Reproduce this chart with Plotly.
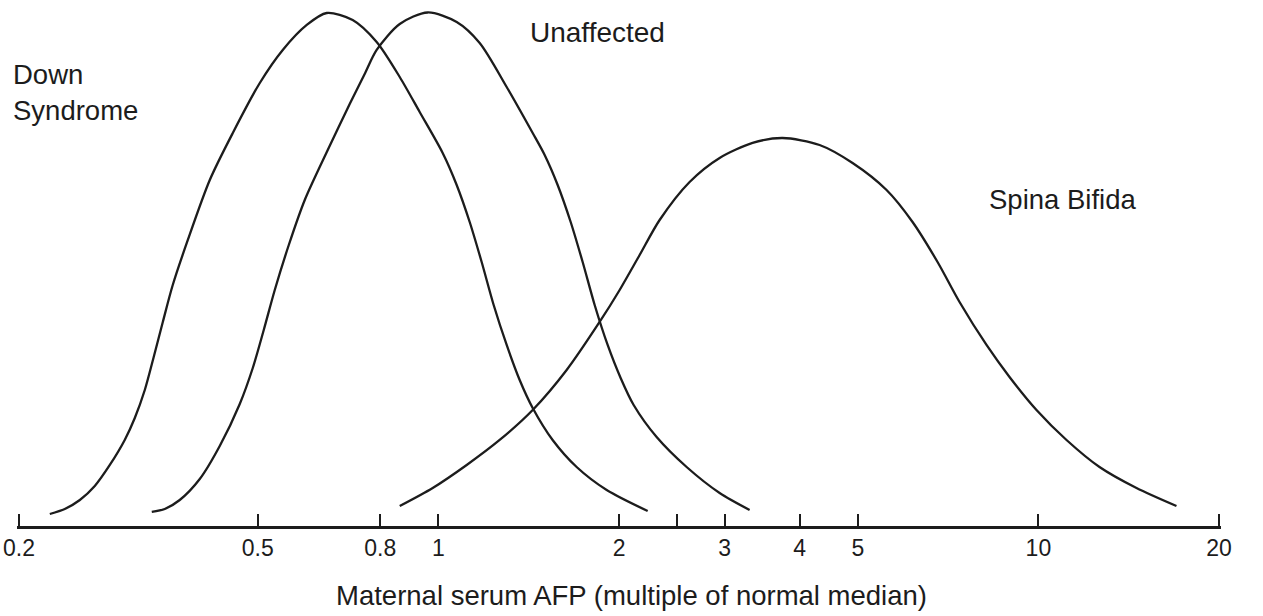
import plotly.graph_objects as go

# Maternal serum AFP (multiple of normal median) and relative frequency (Unaffected peak = 1)
down_afp = [0.2251, 0.2384, 0.2526, 0.2675, 0.2834, 0.3001, 0.3119, 0.3241, 0.3354, 0.3473,
            0.3608, 0.3823, 0.4159, 0.4543, 0.5039, 0.5503, 0.6034, 0.6514, 0.7197, 0.7891,
            0.8621, 0.9307, 1.0166, 1.0727, 1.1276, 1.1806, 1.2363, 1.2996, 1.3660, 1.4360,
            1.5502, 1.6999, 1.9075, 2.2325]
down_freq = [0.0234, 0.0331, 0.0506, 0.0779, 0.1188, 0.1675, 0.2103, 0.2648, 0.3291, 0.3973,
             0.4693, 0.5570, 0.6738, 0.7653, 0.8627, 0.9270, 0.9757, 0.9990, 0.9854, 0.9426,
             0.8744, 0.8062, 0.7264, 0.6641, 0.5920, 0.5141, 0.4304, 0.3525, 0.2843, 0.2298,
             0.1675, 0.1149, 0.0701, 0.0292]

unaff_afp = [0.3329, 0.3499, 0.3706, 0.4002, 0.4321, 0.4666, 0.4905, 0.5116, 0.5337, 0.5632,
             0.5988, 0.6540, 0.7115, 0.7536, 0.7891, 0.8621, 0.9598, 1.0727, 1.1717, 1.2996,
             1.4360, 1.5035, 1.5804, 1.6613, 1.7395, 1.8216, 1.9146, 2.0125, 2.1155, 2.3106,
             2.5925, 2.9425, 3.3013]
unaff_freq = [0.0273, 0.0331, 0.0506, 0.0915, 0.1558, 0.2376, 0.3077, 0.3817, 0.4596, 0.5472,
              0.6349, 0.7322, 0.8218, 0.8802, 0.9270, 0.9776, 1.0000, 0.9815, 0.9406, 0.8549,
              0.7653, 0.7225, 0.6641, 0.5920, 0.5141, 0.4304, 0.3525, 0.2882, 0.2356, 0.1733,
              0.1149, 0.0643, 0.0312]

spina_afp = [0.8621, 0.9784, 1.1147, 1.2651, 1.4360, 1.6359, 1.8564, 2.0048, 2.1647, 2.3373,
             2.6223, 2.9425, 3.3393, 3.7464, 4.3180, 4.9010, 5.5837, 6.1696, 6.7904, 7.3883,
             8.1940, 8.9500, 9.9270, 11.139, 12.642, 14.571, 16.986]
spina_freq = [0.0389, 0.0740, 0.1188, 0.1675, 0.2259, 0.3038, 0.3973, 0.4596, 0.5277, 0.5959,
              0.6699, 0.7167, 0.7459, 0.7556, 0.7420, 0.7069, 0.6543, 0.5920, 0.5141, 0.4362,
              0.3525, 0.2902, 0.2259, 0.1675, 0.1149, 0.0740, 0.0389]

tick_vals = [0.2, 0.5, 0.8, 1, 2, 2.5, 3, 4, 5, 10, 20]
tick_text = ["0.2", "0.5", "0.8", "1", "2", "", "3", "4", "5", "10", "20"]

series_labels = ["Down<br>Syndrome", "Unaffected", "Spina Bifida"]
x_title = "Maternal serum AFP (multiple of normal median)"

INK = "#1c1c1c"
FONT = "Liberation Sans, Arial, Helvetica, sans-serif"

fig = go.Figure()
for xs, ys, name in [(down_afp, down_freq, "Down Syndrome"),
                     (unaff_afp, unaff_freq, "Unaffected"),
                     (spina_afp, spina_freq, "Spina Bifida")]:
    fig.add_trace(go.Scatter(x=xs, y=ys, mode="lines", name=name,
                             line=dict(color=INK, width=2.3, shape="spline", smoothing=0.8),
                             hoverinfo="x+y+name"))

W, H = 1263, 616
ML, MR, MT, MB = 17, 42, 0, 90

fig.update_layout(
    width=W, height=H,
    margin=dict(l=ML, r=MR, t=MT, b=MB),
    paper_bgcolor="white", plot_bgcolor="white",
    showlegend=False,
    font=dict(family=FONT, color=INK),
    xaxis=dict(
        type="log",
        range=[-0.7023, 1.3043],
        tickvals=tick_vals, ticktext=tick_text,
        ticks="inside", ticklen=12, tickwidth=2, tickcolor=INK,
        showline=True, linewidth=2.5, linecolor=INK,
        showgrid=False, zeroline=False,
        ticklabeloverflow="allow",
        tickfont=dict(size=23, family=FONT, color=INK),
    ),
    yaxis=dict(
        range=[0, 1.0243],
        visible=False, showgrid=False, zeroline=False,
    ),
    annotations=[
        dict(text=series_labels[0], xref="paper", yref="paper", x=-0.005, y=0.8242,
             xanchor="left", yanchor="middle", align="left", showarrow=False,
             font=dict(size=27.5, family=FONT, color=INK)),
        dict(text=series_labels[1], xref="paper", yref="paper", x=0.4244, y=0.9373,
             xanchor="left", yanchor="middle", showarrow=False,
             font=dict(size=28, family=FONT, color=INK)),
        dict(text=series_labels[2], xref="paper", yref="paper", x=0.8056, y=0.6198,
             xanchor="left", yanchor="middle", showarrow=False,
             font=dict(size=27.5, family=FONT, color=INK)),
        dict(text=x_title, xref="paper", yref="paper", x=0.51, y=-0.133,
             xanchor="center", yanchor="middle", showarrow=False,
             font=dict(size=27.5, family=FONT, color=INK)),
    ],
)

# remove the default page margin so the figure fills the window exactly
fig.write_html("out.html", config={"displayModeBar": False},
               post_script="document.body.style.margin='0';")
